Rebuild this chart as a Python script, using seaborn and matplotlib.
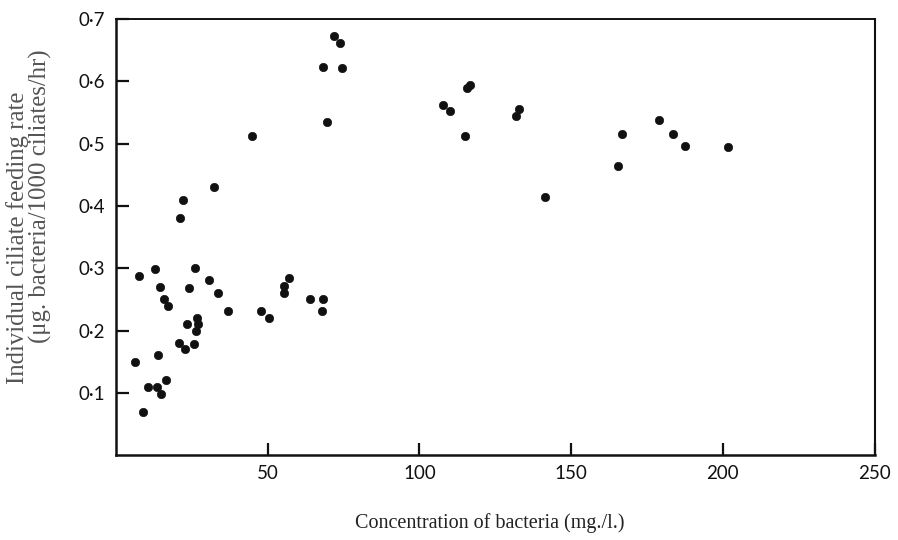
import matplotlib
matplotlib.use("Agg")
import matplotlib.pyplot as plt
import seaborn as sns
import pandas as pd

# Bacterial concentration (mg./l.) and individual ciliate feeding rate
concentration = [
    72.0, 74.0, 68.3, 74.5, 69.6, 44.7, 32.2, 22.1, 21.1,
    7.5, 12.9, 26.1, 14.7, 24.0, 30.6, 33.6, 16.0, 17.3, 37.1,
    47.9, 50.5, 55.3, 55.4, 57.2, 63.9, 68.2, 67.8, 23.5, 26.9,
    27.0, 26.3, 20.8, 22.7, 25.7, 6.2, 14.0, 10.6, 13.7, 15.0,
    16.6, 8.8,
    115.8, 116.6, 107.9, 110.2, 115.1, 132.8, 131.8, 141.4,
    166.6, 165.4, 178.9, 183.5, 187.5, 201.6,
]
feeding_rate = [
    0.672, 0.661, 0.623, 0.621, 0.534, 0.512, 0.430, 0.410, 0.381,
    0.288, 0.299, 0.300, 0.270, 0.268, 0.281, 0.261, 0.250, 0.239, 0.231,
    0.231, 0.220, 0.272, 0.261, 0.284, 0.251, 0.251, 0.231, 0.211, 0.220,
    0.210, 0.200, 0.180, 0.171, 0.179, 0.149, 0.160, 0.110, 0.110, 0.099,
    0.120, 0.070,
    0.589, 0.594, 0.562, 0.552, 0.512, 0.555, 0.544, 0.415,
    0.515, 0.464, 0.538, 0.515, 0.496, 0.495,
]

x_ticks = [50, 100, 150, 200, 250]
x_tick_labels = ["50", "100", "150", "200", "250"]
y_ticks = [0.1, 0.2, 0.3, 0.4, 0.5, 0.6, 0.7]
y_tick_labels = ["0\u00b71", "0\u00b72", "0\u00b73", "0\u00b74", "0\u00b75", "0\u00b76", "0\u00b77"]

x_title = "Concentration of bacteria (mg./l.)"
y_title_lines = ["Individual ciliate feeding rate",
                 "(\u03bcg. bacteria/1000 ciliates/hr)"]

df = pd.DataFrame({"conc": concentration, "rate": feeding_rate})

sns.set_style("ticks")
plt.rcParams["font.family"] = ["Lato", "DejaVu Sans"]

fig = plt.figure(figsize=(8.98, 5.40), dpi=100)
ax = fig.add_axes([0.129, 0.157, 0.845, 0.808])

sns.scatterplot(data=df, x="conc", y="rate", ax=ax, s=36, color="#111111",
                edgecolor="#111111", linewidth=0.5, legend=False)

ax.set_xlim(0, 247)
ax.set_ylim(0, 0.7)
ax.set_xticks(x_ticks)
ax.set_xticklabels(x_tick_labels)
ax.set_yticks(y_ticks)
ax.set_yticklabels(y_tick_labels)

ax.tick_params(axis="both", direction="in", length=9, width=1.6,
               color="#111111", labelsize=13.5, labelcolor="#111111")
ax.tick_params(axis="x", pad=7)
ax.tick_params(axis="y", pad=8)

for side in ["left", "bottom", "top", "right"]:
    ax.spines[side].set_visible(True)
    ax.spines[side].set_color("#111111")
    ax.spines[side].set_linewidth(1.8)
ax.spines["top"].set_linewidth(1.4)
ax.spines["right"].set_linewidth(1.5)

ax.set_xlabel("")
ax.set_ylabel("")

# Axis titles in a serif face, as in the printed figure
fig.text(490 / 898, 1 - 523 / 540, x_title, family="Liberation Serif",
         fontsize=14.5, color="#222222", ha="center", va="center")
fig.text(18 / 898, 1 - 238 / 540, y_title_lines[0], family="Liberation Serif",
         fontsize=17.8, color="#555555", rotation=90, ha="center", va="center")
fig.text(40 / 898, 1 - 196 / 540, y_title_lines[1], family="Liberation Serif",
         fontsize=17.8, color="#555555", rotation=90, ha="center", va="center")

fig.savefig("out.png", dpi=100, facecolor="white")
